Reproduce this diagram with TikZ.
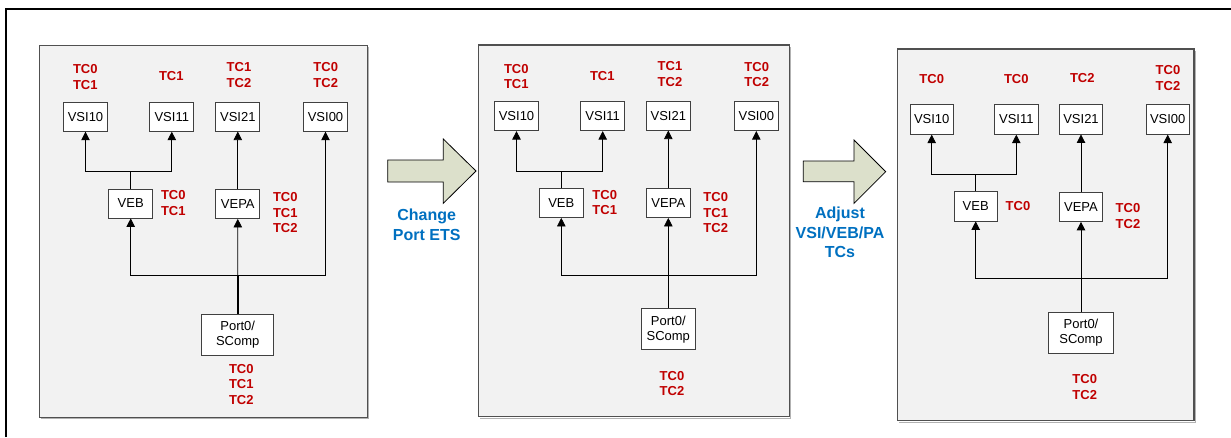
\documentclass[tikz,border=0pt]{standalone}
\usepackage{fontspec}
\setmainfont{Liberation Sans}
\usetikzlibrary{arrows.meta}
\definecolor{panelgray}{HTML}{F2F2F2}
\definecolor{panelborder}{HTML}{505050}
\definecolor{boxborder}{HTML}{404040}
\definecolor{tcred}{HTML}{C00000}
\definecolor{noteblue}{HTML}{0070C0}
\definecolor{arrowfill}{HTML}{DCE0CB}
\tikzset{
 panel/.style={fill=panelgray, draw=panelborder, line width=1.1pt},
 panelshadow/.style={draw=gray!60, line width=1pt},
 box/.style={draw=boxborder, fill=white, line width=0.8pt, inner sep=0pt,
   minimum width=44pt, minimum height=29pt, align=center,
   font=\fontsize{13}{15}\selectfont},
 tc/.style={text=tcred, inner sep=0pt, align=center,
   font=\bfseries\fontsize{13}{15.5}\selectfont},
 note/.style={text=noteblue, inner sep=0pt, align=center,
   font=\bfseries\fontsize{16}{19.6}\selectfont},
 conn/.style={draw=black, line width=0.8pt},
 arr/.style={conn, -{Triangle[width=8.5pt,length=8.5pt]}},
 trunk/.style={draw=black, line width=1.6pt},
 bigarrow/.style={fill=arrowfill, draw=black, line width=0.8pt, line join=miter}
}
\begin{document}
\begin{tikzpicture}[x=1pt,y=-1pt]
\useasboundingbox (0,0) rectangle (1231,437);
% outer frame
\draw[line width=2pt] (6,437) -- (6,9) -- (1231,9);

% ================= Panel 1 =================
\draw[panelshadow] (41,418.8) -- (368.8,418.8) -- (368.8,47);
\draw[panel] (39.3,45.3) rectangle (367.3,417.3);
\node[box] (p1vsi10) at (85.5,116.8) {VSI10};
\node[box] (p1vsi11) at (171.8,116.8) {VSI11};
\node[box] (p1vsi21) at (237.8,116.7) {VSI21};
\node[box] (p1vsi00) at (325.5,116.8) {VSI00};
\node[box] (p1veb) at (130.7,203.5) {VEB};
\node[box] (p1vepa) at (237.8,204) {VEPA};
\node[box, minimum width=72pt, minimum height=41pt] (p1port) at (237.7,334.7) {Port0/\\SComp};
\node[tc] (p1l10) at (85.3,77) {TC0\\TC1};
\node[tc] (p1l11) at (171.3,76.3) {TC1};
\node[tc] (p1l21) at (239,75.2) {TC1\\TC2};
\node[tc] (p1l00) at (325.7,75.2) {TC0\\TC2};
\node[tc] (p1lveb) at (173.3,202.8) {TC0\\TC1};
\node[tc] (p1lvepa) at (285.3,213) {TC0\\TC1\\TC2};
\node[tc] (p1lport) at (241.3,384.2) {TC0\\TC1\\TC2};
\coordinate (p1j) at (130.7,171.3);
\coordinate (p1b) at (237.7,275.7);
\draw[conn] (p1veb.north) -- (p1j);
\draw[arr] (p1j) -| (p1vsi10.south);
\draw[arr] (p1j) -| (p1vsi11.south);
\draw[arr] (p1vepa.north) -- (p1vsi21.south);
\draw[arr] (p1b) -| (p1veb.south);
\draw[arr] (p1b) -| (p1vsi00.south);
\draw[arr] (p1b) -- (p1vepa.south);
\draw[trunk] (p1port.north) -- (p1b);

% ================= Arrow 1 =================
\draw[bigarrow] (387.7,160) -- (443.3,160) -- (443.3,139) -- (476,171)
  -- (443.3,203.3) -- (443.3,182) -- (387.7,182) -- cycle;
\node[note] (n1) at (426.7,225) {Change\\Port ETS};

% ================= Panel 2 =================
\draw[panelshadow] (480,418.2) -- (790.8,418.2) -- (790.8,46.7);
\draw[panel] (478.3,45) rectangle (789.3,416.7);
\node[box] (p2vsi10) at (516.5,116.2) {VSI10};
\node[box] (p2vsi11) at (602.7,116.2) {VSI11};
\node[box] (p2vsi21) at (668.3,115.7) {VSI21};
\node[box] (p2vsi00) at (756.3,116.2) {VSI00};
\node[box] (p2veb) at (561.3,203) {VEB};
\node[box] (p2vepa) at (668.3,203) {VEPA};
\node[box, minimum width=54pt, minimum height=41pt] (p2port) at (668.3,329.3) {Port0/\\SComp};
\node[tc] (p2l10) at (516.3,76.5) {TC0\\TC1};
\node[tc] (p2l11) at (602.3,76.3) {TC1};
\node[tc] (p2l21) at (670,74) {TC1\\TC2};
\node[tc] (p2l00) at (756.7,74.3) {TC0\\TC2};
\node[tc] (p2lveb) at (604.7,202.5) {TC0\\TC1};
\node[tc] (p2lvepa) at (715.7,212.6) {TC0\\TC1\\TC2};
\node[tc] (p2lport) at (672,383.3) {TC0\\TC2};
\coordinate (p2j) at (561.3,171.3);
\coordinate (p2b) at (668.3,275.7);
\draw[conn] (p2veb.north) -- (p2j);
\draw[arr] (p2j) -| (p2vsi10.south);
\draw[arr] (p2j) -| (p2vsi11.south);
\draw[arr] (p2vepa.north) -- (p2vsi21.south);
\draw[arr] (p2b) -| (p2veb.south);
\draw[arr] (p2b) -| (p2vsi00.south);
\draw[arr] (p2b) -- (p2vepa.south);
\draw[conn] (p2port.north) -- (p2b);

% ================= Arrow 2 =================
\draw[bigarrow] (803.3,161) -- (854,161) -- (854,140) -- (885.7,171.7)
  -- (854,203.3) -- (854,181.7) -- (803.3,181.7) -- cycle;
\node[note] (n2) at (840,232.6) {Adjust\\VSI/VEB/PA\\TCs};

% ================= Panel 3 =================
\draw[panelshadow] (899,422.2) -- (1195.5,422.2) -- (1195.5,50.7);
\draw[panel] (897.3,49) rectangle (1194,420.7);
\node[box, minimum width=43.3pt, minimum height=29.5pt] (p3vsi10) at (931.7,119.5) {VSI10};
\node[box, minimum width=43.3pt, minimum height=29.5pt] (p3vsi11) at (1016.3,119.5) {VSI11};
\node[box, minimum width=43.3pt, minimum height=29.5pt] (p3vsi21) at (1081,119.3) {VSI21};
\node[box, minimum width=43.3pt, minimum height=29.5pt] (p3vsi00) at (1167.7,119.5) {VSI00};
\node[box, minimum width=43.3pt, minimum height=29.5pt] (p3veb) at (975.7,206.2) {VEB};
\node[box, minimum width=43.3pt, minimum height=29.5pt] (p3vepa) at (1081,206.7) {VEPA};
\node[box, minimum width=65pt, minimum height=41pt] (p3port) at (1081,332.5) {Port0/\\SComp};
\node[tc] (p3l10) at (931.7,79.3) {TC0};
\node[tc] (p3l11) at (1016.3,79.3) {TC0};
\node[tc] (p3l21) at (1082.3,77.7) {TC2};
\node[tc] (p3l00) at (1168,78) {TC0\\TC2};
\node[tc] (p3lveb) at (1018,205.7) {TC0};
\node[tc] (p3lvepa) at (1128,216) {TC0\\TC2};
\node[tc] (p3lport) at (1084.7,387.2) {TC0\\TC2};
\coordinate (p3j) at (975.7,174);
\coordinate (p3b) at (1081,278);
\draw[conn] (p3veb.north) -- (p3j);
\draw[arr] (p3j) -| (p3vsi10.south);
\draw[arr] (p3j) -| (p3vsi11.south);
\draw[arr] (p3vepa.north) -- (p3vsi21.south);
\draw[arr] (p3b) -| (p3veb.south);
\draw[arr] (p3b) -| (p3vsi00.south);
\draw[arr] (p3b) -- (p3vepa.south);
\draw[conn] (p3port.north) -- (p3b);
\end{tikzpicture}
\end{document}
